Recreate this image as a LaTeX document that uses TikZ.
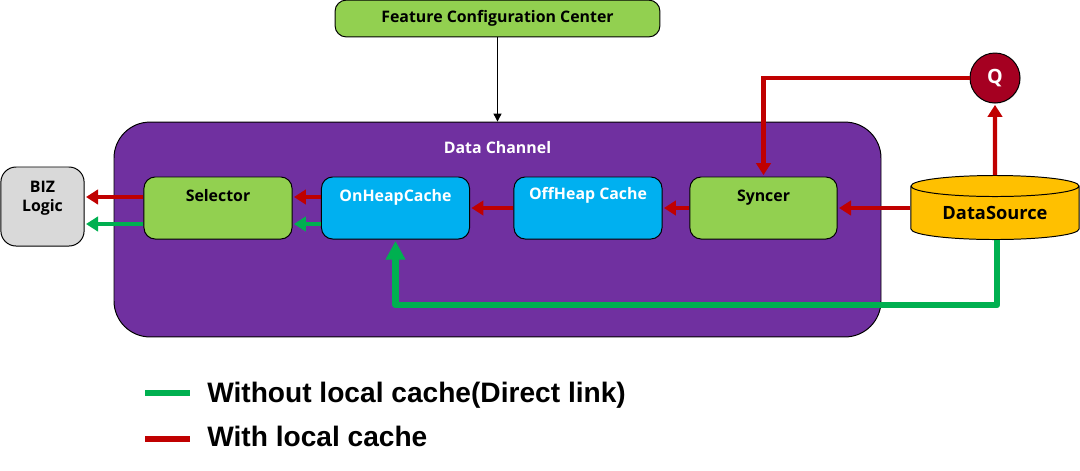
\documentclass[tikz,border=0pt]{standalone}
\usepackage{fontspec}
\setmainfont{Open Sans}
\newfontfamily\legendfont{Liberation Sans}
\usetikzlibrary{arrows.meta,shapes.geometric,shadows}

\tikzset{
  box/.style={draw=black, line width=0.7pt, rounded corners=0.28cm, inner sep=0pt, align=center,
    font=\fontsize{11.3}{13.5}\selectfont\bfseries},
  stagebox/.style={box, minimum width=3.7cm, text height=0.6cm, text depth=0.95cm},
  redline/.style={draw=lineRed, line width=0.105cm, -{Triangle[length=0.3cm,width=0.36cm]}, shorten >=1pt},
  greenline/.style={draw=lineGreen, line width=0.105cm, -{Triangle[length=0.3cm,width=0.36cm]}, shorten >=1pt},
  legendtext/.style={anchor=west, inner sep=0pt, font=\legendfont\fontsize{20}{24}\selectfont\bfseries}
}

\begin{document}
\begin{tikzpicture}[x=0.025cm, y=-0.025cm]

% Colours
\definecolor{colGreen}{HTML}{92D050}
\definecolor{colBlue}{HTML}{00B0F0}
\definecolor{colPurple}{HTML}{7030A0}
\definecolor{colGray}{HTML}{D9D9D9}
\definecolor{colYellow}{HTML}{FFC000}
\definecolor{colQ}{HTML}{A50021}
\definecolor{lineRed}{HTML}{C00000}
\definecolor{lineGreen}{HTML}{00B050}

\useasboundingbox (0,0) rectangle (1080,470);

% Top box and channel
\node[box, fill=colGreen, minimum width=8.12cm, minimum height=0.92cm] (center) at (497.5,18.5) {Feature Configuration Center};
\node[box, fill=colPurple, text=white, rounded corners=0.9cm, minimum width=19.17cm, text height=0.79cm, text depth=4.58cm] (channel) at (497.5,229.5) {Data Channel};

% Stages
\node[stagebox, fill=colGreen] (selector) at (218,208) {Selector};
\node[stagebox, fill=colBlue, text=white] (onheap) at (395.5,208) {OnHeapCache};
\node[stagebox, fill=colBlue, text=white, text height=0.57cm, text depth=0.98cm] (offheap) at (588,208) {OffHeap Cache};
\node[stagebox, fill=colGreen, minimum width=3.68cm] (syncer) at (763.5,208) {Syncer};

% Ends
\node[box, fill=colGray, rounded corners=0.38cm, minimum width=2.08cm, text height=1.1cm, text depth=0.875cm] (biz) at (42.5,206.5) {BIZ\\Logic};
\node[draw=black, line width=0.7pt, fill=colYellow, cylinder, shape border rotate=90, shape aspect=0.2,
  minimum width=4.2cm, minimum height=1.6cm, inner sep=0pt,
  font=\fontsize{13}{15}\selectfont\bfseries] (source) at (995,213) {DataSource};
\node[draw=black, line width=0.7pt, fill=colQ, text=white, circle, minimum size=1.25cm, inner sep=0pt,
  font=\fontsize{14}{16}\selectfont\bfseries, drop shadow={opacity=0.3, shadow xshift=0.5pt, shadow yshift=-0.5pt}] (q) at (995,78) {Q};

% Helper levels
\coordinate (redY) at (0,197);
\coordinate (greenY) at (0,224);
\coordinate (midY) at (0,208);
\coordinate (directY) at (0,305);

% With local cache
\draw[redline] (selector.west |- redY) -- (biz.east |- redY);
\draw[redline] (onheap.west |- redY) -- (selector.east |- redY);
\draw[redline] (offheap.west) -- (onheap.east);
\draw[redline] (syncer.west) -- (offheap.east);
\draw[redline] (source.west |- midY) -- (syncer.east);
\draw[redline] (source.north) -- (q.south);
\draw[redline] (q.west) -| (syncer.north);

% Without local cache
\draw[greenline] (selector.west |- greenY) -- (biz.east |- greenY);
\draw[greenline] (onheap.west |- greenY) -- (selector.east |- greenY);
\draw[greenline, line width=0.16cm, -{Triangle[length=0.47cm,width=0.47cm]}, line join=round] ([xshift=1.4pt]source.south) -- ([xshift=1.4pt]source.south |- directY) -- (onheap.south |- directY) -- (onheap.south);

% Config arrow
\draw[black, line width=0.7pt, -{Triangle[length=0.2cm,width=0.2cm]}] (center.south) -- (channel.north);

% Legend
\node[legendtext] (legendGreen) at (207,395) {Without local cache(Direct link)};
\node[legendtext] (legendRed) at (207,436) {With local cache};
\coordinate (keyGreen) at (145,393);
\coordinate (keyRed) at (145,439);
\draw[lineGreen, line width=0.16cm] (keyGreen) -- ++(45,0);
\draw[lineRed, line width=0.16cm] (keyRed) -- ++(45,0);
\end{tikzpicture}
\end{document}
